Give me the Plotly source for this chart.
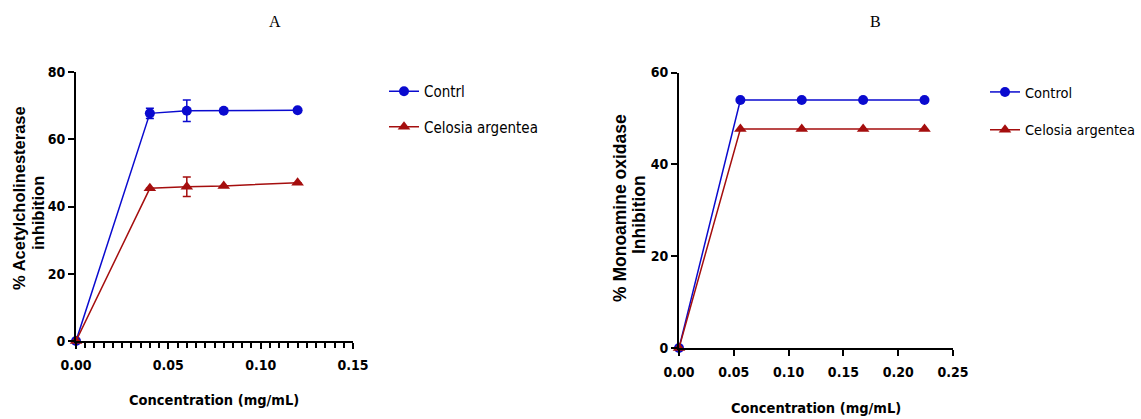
import plotly.graph_objects as go

# Panel A data
conc_a = [0.0, 0.04, 0.06, 0.08, 0.12]
ache_control = [0.0, 67.7, 68.5, 68.5, 68.6]
ache_control_err = [0.0, 1.5, 3.2, 0.0, 0.0]
ache_celosia = [0.0, 45.4, 45.9, 46.1, 47.1]
ache_celosia_err = [0.0, 0.0, 2.9, 0.0, 0.0]

# Panel B data
conc_b = [0.0, 0.056, 0.112, 0.168, 0.224]
mao_control = [0.0, 54.0, 54.0, 54.0, 54.0]
mao_celosia = [0.0, 47.7, 47.7, 47.7, 47.7]

BLUE = "#0A0ACF"
RED = "#A50E0E"
W, H = 1141, 419
NARROW = "Liberation Sans Narrow, DejaVu Sans Condensed, Liberation Sans, Arial"

fig = go.Figure()

def add(x, y, err, name, color, symbol, size, xa, ya, legend, group):
    fig.add_trace(go.Scatter(
        x=x, y=y, name=name, mode="lines+markers",
        xaxis=xa, yaxis=ya, legend=legend, legendgroup=group,
        line=dict(color=color, width=1.5),
        marker=dict(color=color, symbol=symbol, size=size),
        error_y=dict(type="data", array=err, visible=True,
                     color=color, thickness=1.5, width=4) if err is not None else None,
        cliponaxis=False,
    ))

add(conc_a, ache_control, ache_control_err, "Contrl", BLUE, "circle", 10, "x", "y", "legend", "a1")
add(conc_a, ache_celosia, ache_celosia_err, "Celosia argentea", RED, "triangle-up", 11, "x", "y", "legend", "a2")
add(conc_b, mao_control, None, "Control", BLUE, "circle", 10, "x2", "y2", "legend2", "b1")
add(conc_b, mao_celosia, None, "Celosia argentea", RED, "triangle-up", 11, "x2", "y2", "legend2", "b2")

tickfont = dict(family=NARROW, size=14, color="black", weight="bold")
axcommon = dict(showgrid=False, zeroline=False, showline=True, linecolor="black",
                linewidth=2, ticks="outside", tickwidth=2, ticklen=6,
                tickcolor="black", tickfont=tickfont, automargin=False)

legfont = dict(family=NARROW, size=15, color="black")
fig.update_layout(
    width=W, height=H,
    margin=dict(l=0, r=0, t=0, b=0, autoexpand=False),
    paper_bgcolor="white", plot_bgcolor="white",
    xaxis=dict(domain=[76 / W, 353 / W], range=[0, 0.15], anchor="y",
               tickvals=[0, 0.05, 0.10, 0.15], ticktext=["0.00", "0.05", "0.10", "0.15"],
               ticklabelstandoff=4,
               minor=dict(dtick=0.005, ticks="outside", ticklen=5, tickwidth=2, tickcolor="black"),
               **axcommon),
    yaxis=dict(domain=[78 / H, 347 / H], range=[0, 80], anchor="x",
               tickvals=[0, 20, 40, 60, 80], **axcommon),
    xaxis2=dict(domain=[679 / W, 953 / W], range=[0, 0.25], anchor="y2",
                tickvals=[0, 0.05, 0.10, 0.15, 0.20, 0.25],
                ticktext=["0.00", "0.05", "0.10", "0.15", "0.20", "0.25"],
                ticklabelstandoff=4, **axcommon),
    yaxis2=dict(domain=[71 / H, 346.5 / H], range=[0, 60], anchor="x2",
                tickvals=[0, 20, 40, 60], **axcommon),
    legend=dict(x=384 / W, y=1 - 75 / H, xanchor="left", yanchor="top",
                font=legfont, itemwidth=30, tracegroupgap=13,
                bgcolor="rgba(0,0,0,0)"),
    legend2=dict(x=985 / W, y=1 - 76 / H, xanchor="left", yanchor="top",
                 font=dict(family=NARROW, size=14.5, color="black"),
                 itemwidth=30, tracegroupgap=16,
                 bgcolor="rgba(0,0,0,0)"),
    showlegend=True,
)

titlefont = dict(family=NARROW, size=14.5, color="black", weight="bold")
ytf_a = dict(family="Liberation Sans, Arial", size=16.5, color="black", weight="bold")
ytf_b = dict(family="Liberation Sans, Arial", size=17.5, color="black", weight="bold")
serif = dict(family="Liberation Serif, Times New Roman", size=16, color="black")
annos = [
    dict(text="A", x=275 / W, y=1 - 22 / H, font=serif),
    dict(text="B", x=875 / W, y=1 - 22 / H, font=serif),
    dict(text="Concentration (mg/mL)", x=214 / W, y=1 - 400 / H, font=titlefont),
    dict(text="Concentration (mg/mL)", x=816 / W, y=1 - 408 / H, font=titlefont),
    dict(text="% Acetylcholinesterase", x=19 / W, y=1 - 198 / H, textangle=-90, font=ytf_a),
    dict(text="inhibition", x=38 / W, y=1 - 213 / H, textangle=-90, font=ytf_a),
    dict(text="% Monoamine oxidase", x=620 / W, y=1 - 208 / H, textangle=-90, font=ytf_b),
    dict(text="Inhibition", x=639 / W, y=1 - 215 / H, textangle=-90, font=ytf_b),
]
for a in annos:
    a.update(xref="paper", yref="paper", showarrow=False, xanchor="center", yanchor="middle")
    fig.add_annotation(**a)

fig.write_html("out.html")
